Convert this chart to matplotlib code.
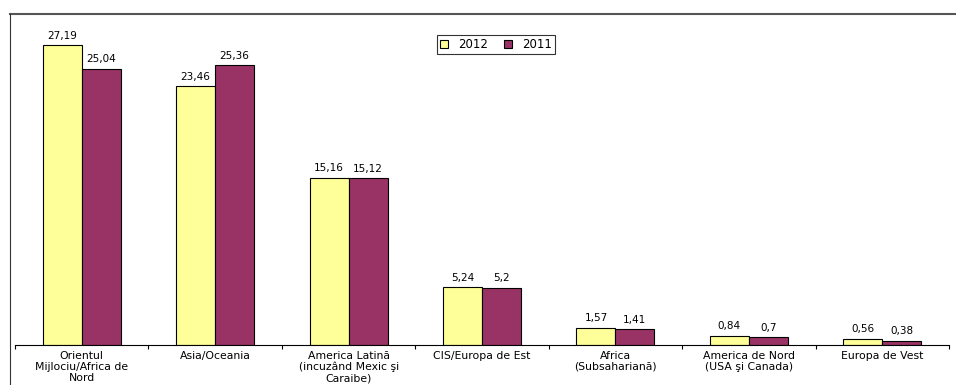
import matplotlib
matplotlib.use("Agg")
from matplotlib import pyplot as plt
from matplotlib.lines import Line2D
import numpy as np

plt.rcParams['font.family'] = ['DejaVu Sans']

categories = ["Orientul\nMijlociu/Africa de\nNord", "Asia/Oceania",
              "America Latină\n(incuzând Mexic şi\nCaraibe)", "CIS/Europa de Est",
              "Africa\n(Subsahariană)", "America de Nord\n(USA şi Canada)",
              "Europa de Vest"]
values2012 = [27.19, 23.46, 15.16, 5.24, 1.57, 0.84, 0.56]
values2011 = [25.04, 25.36, 15.12, 5.2, 1.41, 0.7, 0.38]
labels2012 = ["27,19", "23,46", "15,16", "5,24", "1,57", "0,84", "0,56"]
labels2011 = ["25,04", "25,36", "15,12", "5,2", "1,41", "0,7", "0,38"]

W, H = 956, 385
fig = plt.figure(figsize=(W / 100, H / 100), dpi=100)
ax = fig.add_axes([15 / W, 1 - 345 / H, (949 - 15) / W, (345 - 14) / H])

x = np.arange(len(categories))
barW = 0.292
b1 = ax.bar(x - barW / 2, values2012, barW, color='#FFFF99', edgecolor='black', linewidth=0.8, label='2012')
b2 = ax.bar(x + barW / 2, values2011, barW, color='#993366', edgecolor='black', linewidth=0.8, label='2011')

for rect, lbl in zip(b1, labels2012):
    ax.text(rect.get_x() + rect.get_width() / 2, rect.get_height() + 0.4, lbl,
            ha='center', va='bottom', fontsize=7.5)
for rect, lbl in zip(b2, labels2011):
    ax.text(rect.get_x() + rect.get_width() / 2, rect.get_height() + 0.4, lbl,
            ha='center', va='bottom', fontsize=7.5)

ax.set_xlim(-0.5, len(categories) - 0.5)
ax.set_ylim(0, 30)
for s in ['top', 'right', 'left']:
    ax.spines[s].set_visible(False)
ax.spines['bottom'].set_linewidth(0.8)
ax.set_yticks([])
ax.set_xticks(x)
ax.set_xticklabels(categories, fontsize=7.8, linespacing=1.15)
ax.tick_params(axis='x', which='major', length=0, pad=4)
ax.set_xticks(np.arange(len(categories) + 1) - 0.5, minor=True)
ax.tick_params(axis='x', which='minor', length=3, width=0.8, direction='out')

leg = ax.legend(loc='upper left', bbox_to_anchor=((437 - 15) / (949 - 15), 1 - (35 - 14) / (345 - 14)),
                ncol=2, fontsize=8.5, frameon=True, fancybox=False, edgecolor='black',
                handlelength=0.7, handleheight=0.7, handletextpad=0.8, columnspacing=1.4,
                borderpad=0.25, borderaxespad=0)
leg.get_frame().set_linewidth(0.8)

# outer chart frame (top and left)
fig.add_artist(Line2D([10 / W, 955 / W], [1 - 13.5 / H, 1 - 13.5 / H], color='#555555', linewidth=1.5))
fig.add_artist(Line2D([10 / W, 10 / W], [1 - 13.5 / H, 0], color='#333333', linewidth=0.8))

fig.savefig('out.png', dpi=100)
